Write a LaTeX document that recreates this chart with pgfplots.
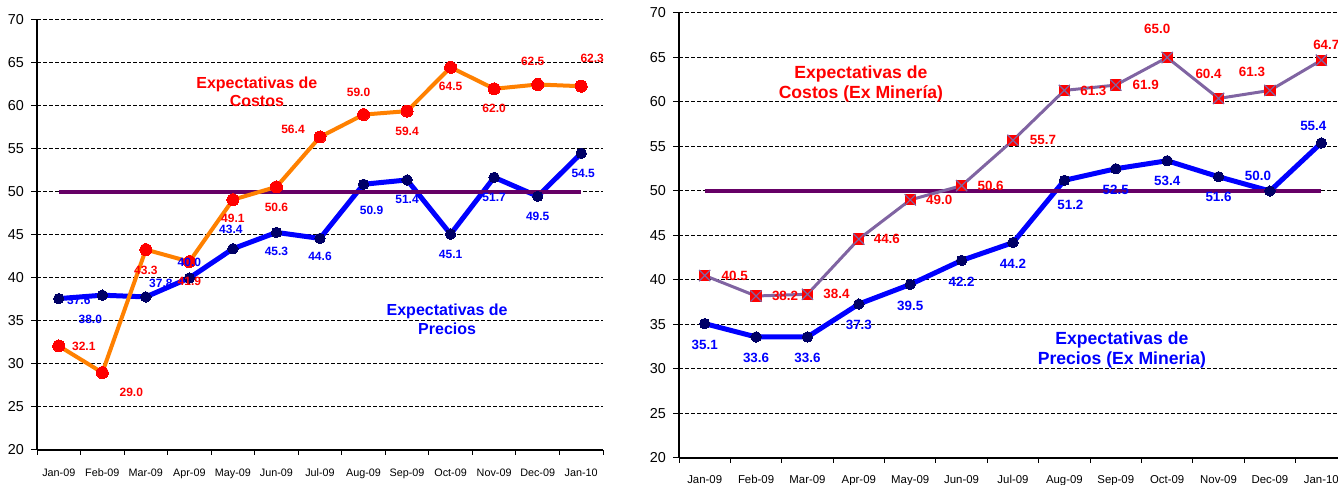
\documentclass[border=0pt]{standalone}
\usepackage{pgfplots}
\pgfplotsset{compat=1.18}
\usepackage{pgfplotstable}
\usepackage{fontspec}
\setmainfont{Liberation Sans}
\definecolor{corange}{RGB}{255,128,0}
\definecolor{cred}{RGB}{255,0,0}
\definecolor{cblue}{RGB}{0,0,255}
\definecolor{cnavy}{RGB}{0,0,102}
\definecolor{cpurple}{RGB}{102,0,102}
\definecolor{clav}{RGB}{128,100,162}

\pgfdeclareplotmark{sqx}{%
  \pgfpathrectangle{\pgfpoint{-\pgfplotmarksize}{-\pgfplotmarksize}}{\pgfpoint{2\pgfplotmarksize}{2\pgfplotmarksize}}%
  \pgfsetfillcolor{cred}\pgfusepathqfill
  \pgfsetstrokecolor{clav}\pgfsetlinewidth{0.6pt}%
  \pgfpathmoveto{\pgfpoint{-\pgfplotmarksize}{-\pgfplotmarksize}}%
  \pgfpathlineto{\pgfpoint{\pgfplotmarksize}{\pgfplotmarksize}}%
  \pgfpathmoveto{\pgfpoint{-\pgfplotmarksize}{\pgfplotmarksize}}%
  \pgfpathlineto{\pgfpoint{\pgfplotmarksize}{-\pgfplotmarksize}}%
  \pgfusepathqstroke}

\pgfplotstableread{
x y lbl dx dy
0 32.1 32.1 12.5 0
1 29.0 29.0 14.5 -10
2 43.3 43.3 0 -10.5
3 41.9 41.9 0 -10
4 49.1 49.1 0 -9.5
5 50.6 50.6 0 -10.5
6 56.4 56.4 -13.5 4
7 59.0 59.0 -2.5 11
8 59.4 59.4 0 -10
9 64.5 64.5 0 -9.5
10 62.0 62.0 0 -10
11 62.5 62.5 -2.5 11.5
12 62.3 62.3 5.5 14
}\costos

\pgfplotstableread{
x y lbl dx dy
0 37.6 37.6 10 -1
1 38.0 38.0 -6 -12
2 37.8 37.8 7.5 7
3 40.0 40.0 0 8
4 43.4 43.4 -1 9.5
5 45.3 45.3 0 -9.5
6 44.6 44.6 0 -9
7 50.9 50.9 4 -13
8 51.4 51.4 0 -9.5
9 45.1 45.1 0 -10
10 51.7 51.7 0 -10
11 49.5 49.5 0 -10
12 54.5 54.5 1 -10
}\precios

\pgfplotstableread{
x y lbl dx dy
0 40.5 40.5 15 0
1 38.2 38.2 14.5 0
2 38.4 38.4 14.5 0
3 44.6 44.6 14 0
4 49.0 49.0 14.5 0
5 50.6 50.6 14.5 0
6 55.7 55.7 15 0
7 61.3 61.3 14.5 0
8 61.9 61.9 15 0
9 65.0 65.0 -5 14.5
10 60.4 60.4 -5 12.5
11 61.3 61.3 -9 9.5
12 64.7 64.7 2.5 7.5
}\costosex

\pgfplotstableread{
x y lbl dx dy
0 35.1 35.1 0 -10.5
1 33.6 33.6 0 -10.5
2 33.6 33.6 0 -10.5
3 37.3 37.3 0 -10.5
4 39.5 39.5 0 -10.5
5 42.2 42.2 0 -10.5
6 44.2 44.2 0 -10.5
7 51.2 51.2 3 -12.5
8 52.5 52.5 0 -10.5
9 53.4 53.4 0 -10
10 51.6 51.6 0 -10
11 50.0 50.0 -6 7.5
12 55.4 55.4 -4 8.5
}\preciosex

\pgfplotsset{
  basestyle/.style={
    scale only axis, xmin=-0.5, xmax=12.5, ymin=20, ymax=70,
    ytick={20,25,...,70},
    axis x line*=bottom, axis y line*=left,
    axis line style={black, line width=0.8pt},
    xtick={0,...,12},
    xticklabels={Jan-09,Feb-09,Mar-09,Apr-09,May-09,Jun-09,Jul-09,Aug-09,Sep-09,Oct-09,Nov-09,Dec-09,Jan-10},
    major x tick style={draw=none},
    minor xtick={-0.5,0.5,...,12.5},
    minor tick length=2.5pt,
    major tick length=3pt,
    tick align=outside,
    tick style={black, line width=0.5pt},
    ymajorgrids,
    grid style={black, dash pattern=on 2pt off 1pt, line width=0.5pt},
    /pgf/number format/assume math mode=true,
    clip=false,
  },
  lbls/.style={
    draw=none, mark=none,
    nodes near coords, point meta=explicit symbolic,
    visualization depends on={\thisrow{dx}\as\mydx},
    visualization depends on={\thisrow{dy}\as\mydy},
    every node near coord/.append style={anchor=center, inner sep=0pt,
      xshift=\mydx pt, yshift=\mydy pt, font=\bfseries#1},
  },
}

\begin{document}
\begin{tikzpicture}
% ---------------- left chart
\begin{axis}[basestyle,
  at={(18.5pt,17.5pt)}, anchor=south west,
  width=283pt, height=215pt,
  yticklabel style={font=\fontsize{7.2}{8}\selectfont},
  xticklabel style={font=\fontsize{5.4}{6}\selectfont, yshift=-3pt},
]
\addplot[cblue, line width=2.5pt, mark=*, mark size=2.6pt,
  mark options={fill=cnavy, draw=cnavy, line width=0pt}] table[x=x,y=y] {\precios};
\addplot[cpurple, line width=2.2pt] coordinates {(0,50) (12,50)};
\addplot[corange, line width=2pt, mark=*, mark size=3pt,
  mark options={fill=cred, draw=cred, line width=0pt}] table[x=x,y=y] {\costos};
\addplot[lbls={\fontsize{6}{7}\selectfont\color{cred}}] table[x=x,y=y,meta=lbl] {\costos};
\addplot[lbls={\fontsize{6}{7}\selectfont\color{cblue}}] table[x=x,y=y,meta=lbl] {\precios};
\node[align=center, text=cred, font=\bfseries\fontsize{8}{9}\selectfont] at (axis cs:4.55,61.7) {Expectativas de\\Costos};
\node[align=center, text=cblue, font=\bfseries\fontsize{8}{9.5}\selectfont] at (axis cs:8.92,35.2) {Expectativas de\\Precios};
\end{axis}
% ---------------- right chart
\begin{axis}[basestyle,
  at={(339.5pt,13.5pt)}, anchor=south west,
  width=334pt, height=222.5pt,
  yticklabel style={font=\fontsize{7.2}{8}\selectfont},
  xticklabel style={font=\fontsize{5.7}{6.5}\selectfont, yshift=-2pt},
]
\addplot[cblue, line width=2.5pt, mark=*, mark size=2.6pt,
  mark options={fill=cnavy, draw=cnavy, line width=0pt}] table[x=x,y=y] {\preciosex};
\addplot[cpurple, line width=2.2pt] coordinates {(0,50) (12,50)};
\addplot[clav, line width=1.5pt, mark=sqx, mark size=2.8pt] table[x=x,y=y] {\costosex};
\addplot[lbls={\fontsize{6.7}{7.5}\selectfont\color{cred}}] table[x=x,y=y,meta=lbl] {\costosex};
\addplot[lbls={\fontsize{6.7}{7.5}\selectfont\color{cblue}}] table[x=x,y=y,meta=lbl] {\preciosex};
\node[align=center, text=cred, font=\bfseries\fontsize{8.8}{10}\selectfont] at (axis cs:3.04,62.0) {Expectativas de\\Costos (Ex Minería)};
\node[align=center, text=cblue, font=\bfseries\fontsize{8.8}{10}\selectfont] at (axis cs:8.12,32.1) {Expectativas de\\Precios (Ex Mineria)};
\end{axis}
\pgfresetboundingbox
\path[use as bounding box] (0,0) rectangle (669pt,242.5pt);
\end{tikzpicture}
\end{document}
